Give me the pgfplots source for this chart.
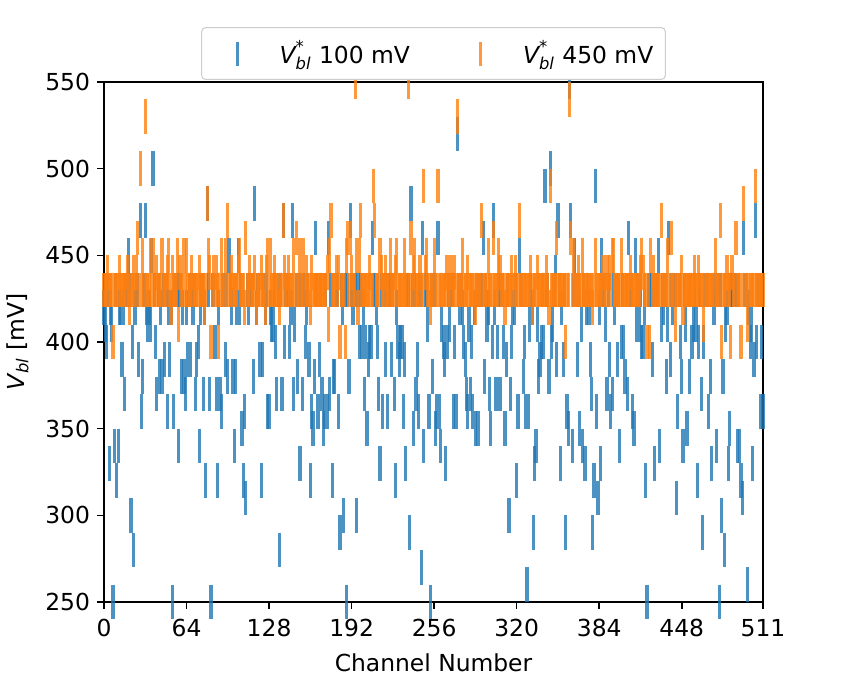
\documentclass[border=0pt]{standalone}
\usepackage{fontspec}
\setmainfont{DejaVu Sans}
\usepackage{amsmath}
\usepackage{pgfplots}
\usepackage{pgfplotstable}
\pgfplotsset{compat=1.18}
\definecolor{mblue}{HTML}{1F77B4}
\definecolor{morange}{HTML}{FF7F0E}
% b = V*bl 100 mV, o = V*bl 450 mV ; one row per channel 0..511
\pgfplotstableread[row sep=\\]{
b o \\
420 430 \\ 410 430 \\ 400 430 \\ 430 440 \\ 330 430 \\ 420 430 \\ 410 430 \\ 250 400 \\
340 430 \\ 430 430 \\ 320 430 \\ 340 430 \\ 420 440 \\ 420 430 \\ 390 430 \\ 420 430 \\
370 430 \\ 430 430 \\ 430 440 \\ 450 430 \\ 430 420 \\ 300 430 \\ 400 430 \\ 280 440 \\
420 430 \\ 430 440 \\ 430 460 \\ 390 430 \\ 470 500 \\ 360 430 \\ 380 450 \\ 430 430 \\
470 530 \\ 420 430 \\ 410 430 \\ 420 430 \\ 410 450 \\ 450 430 \\ 500 450 \\ 430 430 \\
400 430 \\ 370 440 \\ 430 430 \\ 380 430 \\ 420 430 \\ 380 450 \\ 430 430 \\ 390 430 \\
430 430 \\ 360 440 \\ 420 450 \\ 390 430 \\ 420 420 \\ 250 440 \\ 360 430 \\ 430 430 \\
430 430 \\ 430 450 \\ 340 410 \\ 430 440 \\ 380 430 \\ 420 430 \\ 380 450 \\ 370 430 \\
420 450 \\ 390 430 \\ 430 430 \\ 390 430 \\ 430 440 \\ 420 430 \\ 430 430 \\ 370 430 \\
390 430 \\ 400 430 \\ 340 440 \\ 420 430 \\ 430 430 \\ 370 430 \\ 420 420 \\ 320 430 \\
480 480 \\ 430 450 \\ 370 440 \\ 250 400 \\ 430 430 \\ 430 440 \\ 400 430 \\ 370 440 \\
320 430 \\ 420 400 \\ 370 430 \\ 360 450 \\ 430 430 \\ 430 430 \\ 390 450 \\ 430 430 \\
380 470 \\ 450 430 \\ 430 430 \\ 420 440 \\ 380 430 \\ 340 430 \\ 380 430 \\ 420 430 \\
450 440 \\ 420 450 \\ 430 430 \\ 350 430 \\ 320 430 \\ 360 420 \\ 310 460 \\ 430 430 \\
420 430 \\ 430 440 \\ 430 430 \\ 430 430 \\ 380 430 \\ 480 440 \\ 420 420 \\ 430 430 \\
430 430 \\ 390 430 \\ 320 440 \\ 390 430 \\ 430 430 \\ 420 420 \\ 430 440 \\ 360 450 \\
360 430 \\ 420 450 \\ 410 430 \\ 410 430 \\ 430 440 \\ 400 430 \\ 370 430 \\ 430 430 \\
280 420 \\ 430 430 \\ 370 430 \\ 470 470 \\ 400 440 \\ 430 430 \\ 430 430 \\ 430 440 \\
400 430 \\ 420 430 \\ 470 430 \\ 370 450 \\ 410 430 \\ 430 460 \\ 380 430 \\ 430 430 \\
330 450 \\ 430 430 \\ 370 430 \\ 430 450 \\ 400 430 \\ 420 440 \\ 430 430 \\ 390 430 \\
320 420 \\ 360 440 \\ 350 430 \\ 380 430 \\ 460 430 \\ 430 430 \\ 360 430 \\ 390 430 \\
430 430 \\ 370 430 \\ 350 430 \\ 360 430 \\ 430 430 \\ 360 440 \\ 460 410 \\ 370 450 \\
430 470 \\ 320 430 \\ 380 430 \\ 380 430 \\ 430 440 \\ 430 430 \\ 360 440 \\ 290 400 \\
430 430 \\ 420 430 \\ 300 430 \\ 430 400 \\ 250 450 \\ 430 460 \\ 380 430 \\ 470 460 \\
430 440 \\ 420 430 \\ 430 430 \\ 430 550 \\ 300 450 \\ 430 420 \\ 400 450 \\ 430 470 \\
400 430 \\ 420 430 \\ 370 430 \\ 400 430 \\ 350 430 \\ 390 430 \\ 400 440 \\ 400 430 \\
460 430 \\ 430 490 \\ 430 470 \\ 420 430 \\ 400 430 \\ 370 430 \\ 330 450 \\ 430 440 \\
360 430 \\ 430 430 \\ 390 440 \\ 430 430 \\ 360 430 \\ 430 430 \\ 430 450 \\ 390 430 \\
430 430 \\ 370 430 \\ 320 440 \\ 420 450 \\ 400 430 \\ 390 430 \\ 400 430 \\ 400 430 \\
360 430 \\ 390 450 \\ 330 430 \\ 430 430 \\ 430 550 \\ 290 430 \\ 480 460 \\ 430 430 \\
350 440 \\ 430 450 \\ 370 430 \\ 390 430 \\ 360 430 \\ 430 440 \\ 270 430 \\ 460 430 \\
340 490 \\ 430 440 \\ 430 450 \\ 410 430 \\ 360 430 \\ 250 420 \\ 430 430 \\ 380 430 \\
430 450 \\ 350 430 \\ 360 430 \\ 460 490 \\ 360 430 \\ 340 430 \\ 410 430 \\ 400 430 \\
390 430 \\ 330 430 \\ 400 440 \\ 430 430 \\ 410 430 \\ 430 440 \\ 430 430 \\ 360 430 \\
400 440 \\ 360 430 \\ 520 530 \\ 430 430 \\ 420 430 \\ 430 430 \\ 420 450 \\ 400 430 \\
390 430 \\ 370 430 \\ 360 440 \\ 410 430 \\ 370 430 \\ 400 430 \\ 360 430 \\ 420 430 \\
350 420 \\ 430 430 \\ 350 430 \\ 430 430 \\ 430 430 \\ 430 470 \\ 460 430 \\ 380 430 \\
430 430 \\ 410 430 \\ 420 450 \\ 370 430 \\ 350 430 \\ 400 430 \\ 470 460 \\ 420 430 \\
370 430 \\ 400 430 \\ 430 450 \\ 370 440 \\ 430 430 \\ 430 430 \\ 400 430 \\ 350 420 \\
390 430 \\ 430 430 \\ 300 430 \\ 370 430 \\ 400 440 \\ 420 430 \\ 420 430 \\ 430 440 \\
320 430 \\ 360 430 \\ 450 470 \\ 430 430 \\ 430 430 \\ 380 430 \\ 400 430 \\ 360 430 \\
260 430 \\ 360 430 \\ 410 430 \\ 430 440 \\ 420 420 \\ 290 430 \\ 330 430 \\ 340 430 \\
410 440 \\ 380 430 \\ 390 430 \\ 400 430 \\ 430 430 \\ 400 430 \\ 490 430 \\ 430 440 \\
430 430 \\ 380 420 \\ 500 490 \\ 400 430 \\ 410 430 \\ 430 430 \\ 440 430 \\ 390 460 \\
470 430 \\ 430 430 \\ 330 430 \\ 420 430 \\ 390 430 \\ 430 430 \\ 290 400 \\ 360 430 \\
350 430 \\ 550 540 \\ 470 460 \\ 340 430 \\ 430 450 \\ 450 430 \\ 430 430 \\ 390 430 \\
430 440 \\ 350 430 \\ 410 430 \\ 340 450 \\ 430 430 \\ 330 430 \\ 420 430 \\ 430 430 \\
420 430 \\ 390 430 \\ 370 430 \\ 290 420 \\ 320 430 \\ 490 450 \\ 360 430 \\ 310 430 \\
420 430 \\ 330 430 \\ 450 430 \\ 430 440 \\ 430 430 \\ 410 430 \\ 370 440 \\ 430 430 \\
390 440 \\ 360 430 \\ 370 450 \\ 430 450 \\ 420 430 \\ 430 430 \\ 390 430 \\ 430 430 \\
340 430 \\ 400 450 \\ 430 430 \\ 400 430 \\ 380 430 \\ 430 430 \\ 370 430 \\ 460 430 \\
430 440 \\ 430 430 \\ 360 430 \\ 350 430 \\ 450 430 \\ 410 430 \\ 430 430 \\ 410 430 \\
430 440 \\ 400 450 \\ 400 440 \\ 420 430 \\ 320 430 \\ 250 400 \\ 430 430 \\ 430 400 \\
430 450 \\ 390 430 \\ 430 440 \\ 330 430 \\ 430 430 \\ 430 430 \\ 450 430 \\ 340 430 \\
410 470 \\ 430 430 \\ 420 430 \\ 430 430 \\ 380 430 \\ 410 450 \\ 460 430 \\ 390 430 \\
430 460 \\ 420 430 \\ 430 430 \\ 430 410 \\ 310 430 \\ 360 430 \\ 430 430 \\ 400 430 \\
380 440 \\ 340 420 \\ 430 430 \\ 410 430 \\ 350 430 \\ 430 430 \\ 380 430 \\ 430 430 \\
400 430 \\ 410 430 \\ 430 440 \\ 410 430 \\ 320 430 \\ 400 440 \\ 430 430 \\ 370 430 \\
290 430 \\ 400 410 \\ 430 430 \\ 430 430 \\ 430 430 \\ 360 430 \\ 380 430 \\ 330 430 \\
430 430 \\ 420 430 \\ 430 450 \\ 340 430 \\ 430 430 \\ 250 430 \\ 430 470 \\ 300 400 \\
380 430 \\ 280 430 \\ 410 430 \\ 420 440 \\ 330 430 \\ 350 430 \\ 430 400 \\ 430 440 \\
430 430 \\ 430 430 \\ 430 460 \\ 340 430 \\ 430 430 \\ 340 430 \\ 320 400 \\ 310 430 \\
460 480 \\ 430 430 \\ 430 430 \\ 260 410 \\ 420 430 \\ 400 430 \\ 410 430 \\ 330 430 \\
390 430 \\ 470 490 \\ 400 430 \\ 430 430 \\ 430 430 \\ 360 430 \\ 400 430 \\ 360 430 \\
}\data
\newcommand{\lbl}{\fontsize{11.7}{14}\selectfont}
\begin{document}
\begin{tikzpicture}[x=1pt,y=1pt]
\useasboundingbox (0,0) rectangle (423.5,339);
\begin{axis}[
  at={(52pt,38pt)}, anchor=south west,
  scale only axis, width=329.5pt, height=260pt,
  xmin=0, xmax=511, ymin=250, ymax=550,
  xtick={0,64,128,192,256,320,384,448,511},
  ytick={250,300,350,400,450,500,550},
  tick align=outside, tick pos=left,
  major tick length=3.5pt,
  every tick/.style={black, line width=0.8pt},
  axis line style={line width=0.8pt},
  tick label style={font=\lbl},
  xticklabel style={yshift=-1.5pt},
  label style={font=\lbl},
  xlabel style={yshift=-1.5pt},
  ylabel style={yshift=1.5pt},
  /pgf/number format/assume math mode=true,
  /pgf/number format/1000 sep={},
  xlabel={Channel Number},
  ylabel={\textit{V}$_{\textit{bl}}$ [mV]},
  legend columns=2,
  legend style={at={(0.5,1)}, anchor=south, yshift=1pt,
    draw=black!20, line width=0.5pt, rounded corners=2pt, fill=white,
    font=\lbl, inner xsep=6pt, inner ysep=4.5pt,
    /tikz/every odd column/.append style={column sep=9.5pt},
    /tikz/every even column/.append style={column sep=23.5pt},
    nodes={inner xsep=0pt}},
  legend image code/.code={\path[draw=none] (0pt,0pt) -- (23.5pt,0pt);
    \draw[#1, mark size=6pt] plot coordinates {(11.75pt,0pt)};},
  clip=true,
]
\addplot[only marks, mark=|, mark size=8.67pt,
  mark options={draw=mblue, draw opacity=0.8, line width=1.6pt}]
  table[x expr=\coordindex, y=b] {\data};
\addlegendentry{$\textit{V}^{\text{*}}_{\textit{bl}}$ 100 mV}
\addplot[only marks, mark=|, mark size=8.67pt,
  mark options={draw=morange, draw opacity=0.8, line width=1.6pt}]
  table[x expr=\coordindex, y=o] {\data};
\addlegendentry{$\textit{V}^{\text{*}}_{\textit{bl}}$ 450 mV}
\end{axis}
\end{tikzpicture}
\end{document}
